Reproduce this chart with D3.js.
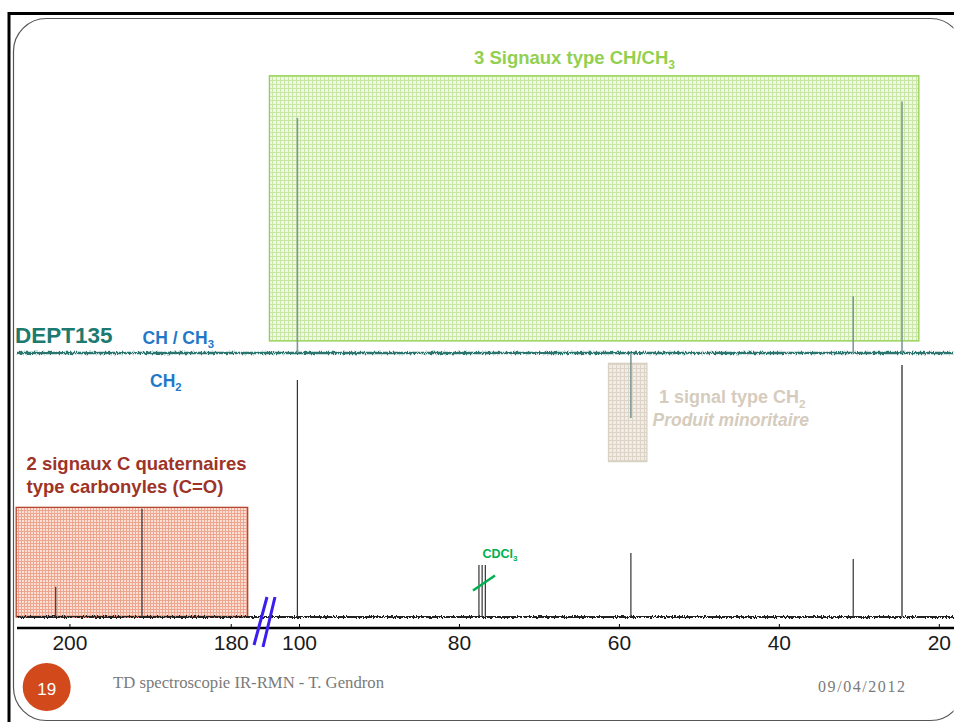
<!DOCTYPE html>
<html>
<head>
<meta charset="utf-8">
<script src="https://cdn.jsdelivr.net/npm/d3@7"></script>
<style>
  body { margin: 0; background: #fff; overflow: hidden; }
  svg { display: block; }
</style>
</head>
<body>
<div id="chart-area"></div>
<script>
// 13C spectrum (bottom): shift in ppm and relative height (tallest = 100)
var c13Shifts = [201.7, 191.0, 100.2, 77.5, 77.1, 76.7, 58.5, 30.7, 24.6];
var c13Heights = [12, 43, 94, 20.6, 20.6, 20.6, 25.4, 23, 100];

// DEPT135 (top): positive = CH / CH3, negative = CH2
var deptShifts = [100.2, 58.5, 30.7, 24.6];
var deptHeights = [93.3, -25.8, 22.5, 99.8];

// broken ppm axis
var leftDomain = [206.5, 176];
var rightDomain = [104.5, 18.1];
var leftTicks = [200, 180];
var rightTicks = [100, 80, 60, 40, 20];

// highlighted regions (ppm range, height range)
var greenPpm = [103.7, 22.5], greenInt = [4.8, 110];
var beigePpm = [61.3, 56.5], beigeInt = [-4.1, -43.1];
var redPpm = [206.6, 177.9], redInt = [0, 43.5];

var W = 954, H = 722;
var baseC13 = 617, baseDept = 353;

var svg = d3.select("#chart-area")
    .append("svg")
    .attr("width", W)
    .attr("height", H)
    .style("font-family", "Liberation Sans, Arial, sans-serif");

var xLeft = d3.scaleLinear().domain(leftDomain).range([17, 263]);
var xRight = d3.scaleLinear().domain(rightDomain).range([263, 954]);
var hScale = d3.scaleLinear().domain([0, 100]).range([0, 252]);

function xp(ppm) { return ppm > 140 ? xLeft(ppm) : xRight(ppm); }

// patterns + noise filter
var defs = svg.append("defs");
function grid(id, bg, line, size) {
    var p = defs.append("pattern").attr("id", id)
        .attr("patternUnits", "userSpaceOnUse")
        .attr("width", size).attr("height", size);
    p.append("rect").attr("width", size).attr("height", size).attr("fill", bg);
    p.append("rect").attr("width", size).attr("height", 1).attr("fill", line);
    p.append("rect").attr("width", 1).attr("height", size).attr("fill", line);
}
grid("gGreen", "#eef8e2", "#c8e7a4", 4);
grid("gRed", "#fbe0d6", "#eea58f", 3);
grid("gBeige", "#f1ede6", "#dcd4c6", 4);

var f = defs.append("filter").attr("id", "noise")
    .attr("filterUnits", "userSpaceOnUse")
    .attr("x", 0).attr("y", 0).attr("width", W).attr("height", H);
f.append("feTurbulence").attr("type", "fractalNoise")
    .attr("baseFrequency", "0.9 0.3").attr("numOctaves", 2).attr("seed", 4)
    .attr("result", "t");
f.append("feDisplacementMap").attr("in", "SourceGraphic").attr("in2", "t")
    .attr("scale", 4).attr("xChannelSelector", "R").attr("yChannelSelector", "G");

defs.append("clipPath").attr("id", "page")
    .append("rect").attr("x", 0).attr("y", 0).attr("width", W - 0.5).attr("height", H);

// frame
svg.append("line").attr("x1", 9).attr("x2", 9).attr("y1", 12).attr("y2", H)
    .attr("stroke", "#000").attr("stroke-width", 3);
svg.append("line").attr("x1", 8).attr("x2", W).attr("y1", 13.5).attr("y2", 13.5)
    .attr("stroke", "#000").attr("stroke-width", 3);
svg.append("rect").attr("x", 13.5).attr("y", 18.5).attr("width", 950).attr("height", 702)
    .attr("rx", 33).attr("fill", "none").attr("stroke", "#555").attr("stroke-width", 1.2)
    .attr("clip-path", "url(#page)");

// boxes
function box(ppm, ints, base, fill, stroke) {
    var x0 = xp(ppm[0]), x1 = xp(ppm[1]);
    var y0 = base - hScale(ints[0]), y1 = base - hScale(ints[1]);
    svg.append("rect")
        .attr("x", Math.min(x0, x1)).attr("y", Math.min(y0, y1))
        .attr("width", Math.abs(x1 - x0)).attr("height", Math.abs(y1 - y0))
        .attr("fill", fill).attr("stroke", stroke).attr("stroke-width", 1.3);
}
box(greenPpm, greenInt, baseDept, "url(#gGreen)", "#92d050");
box(beigePpm, beigeInt, baseDept, "url(#gBeige)", "#d9d1c2");
box(redPpm, redInt, baseC13, "url(#gRed)", "#b5452c");

// baselines
function baseline(base, color, w) {
    svg.append("line")
        .attr("x1", xLeft(leftDomain[0])).attr("x2", xRight(rightDomain[1]))
        .attr("y1", base).attr("y2", base)
        .attr("stroke", color).attr("stroke-width", w)
        .attr("filter", "url(#noise)");
}
baseline(baseDept, "#2a766e", 2.4);
baseline(baseC13, "#222", 1.8);

// peaks
svg.append("g").selectAll("line")
    .data(deptShifts)
    .enter().append("line")
    .attr("x1", d => xp(d)).attr("x2", d => xp(d))
    .attr("y1", baseDept)
    .attr("y2", (d, i) => baseDept - hScale(deptHeights[i]))
    .attr("stroke", "#7d9896").attr("stroke-width", 1.6);

svg.append("g").selectAll("line")
    .data(c13Shifts)
    .enter().append("line")
    .attr("x1", d => xp(d)).attr("x2", d => xp(d))
    .attr("y1", baseC13)
    .attr("y2", (d, i) => baseC13 - hScale(c13Heights[i]))
    .attr("stroke", (d, i) => c13Heights[i] > 99 ? "#777" : "#333")
    .attr("stroke-width", (d, i) => c13Heights[i] > 99 ? 2 : 1.2);

// axis
var axisY = 628;
svg.append("line").attr("x1", 17).attr("x2", W).attr("y1", axisY).attr("y2", axisY)
    .attr("stroke", "#000").attr("stroke-width", 2.5);
function drawAxis(scale, ticks) {
    var g = svg.append("g").attr("transform", "translate(0," + axisY + ")")
        .call(d3.axisBottom(scale).tickValues(ticks).tickSize(-4).tickSizeOuter(0).tickPadding(7));
    g.select(".domain").remove();
    g.selectAll("line").attr("stroke", "#000");
    g.selectAll("text").attr("font-size", 21).attr("fill", "#1a1a1a")
        .attr("font-family", "Liberation Sans, Arial, sans-serif");
}
drawAxis(xLeft, leftTicks);
drawAxis(xRight, rightTicks);

// axis break
[[254, 645, 267, 597], [263, 647, 275, 597]].forEach(function (b) {
    svg.append("line").attr("x1", b[0]).attr("y1", b[1]).attr("x2", b[2]).attr("y2", b[3])
        .attr("stroke", "#3b1df0").attr("stroke-width", 3);
});

// labels
function label(x, y, parts, size, color, extra) {
    var t = svg.append("text").attr("x", x).attr("y", y)
        .attr("font-size", size).attr("font-weight", "bold").attr("fill", color);
    if (extra) extra(t);
    parts.forEach(function (p) {
        if (p.sub) {
            t.append("tspan").attr("dy", size * 0.25).attr("font-size", size * 0.65).text(p.sub);
        } else {
            t.append("tspan").text(p.t);
        }
    });
    return t;
}
label(474, 64, [{ t: "3 Signaux type CH/CH" }, { sub: "3" }], 18.5, "#92d050");
label(15, 343, [{ t: "DEPT135" }], 22.5, "#1d7a70");
label(142.5, 344, [{ t: "CH / CH" }, { sub: "3" }], 17.5, "#1f78c8");
label(150, 387, [{ t: "CH" }, { sub: "2" }], 17.5, "#1f78c8");
label(659, 403, [{ t: "1 signal type CH" }, { sub: "2" }], 18, "#d5ccbd");
label(652.5, 426, [{ t: "Produit minoritaire" }], 17.5, "#d5ccbd",
    function (t) { t.attr("font-style", "italic"); });
label(26.5, 470, [{ t: "2 signaux C quaternaires" }], 18.5, "#9e3327");
label(26.5, 493, [{ t: "type carbonyles (C=O)" }], 18.5, "#9e3327");
label(482.5, 558, [{ t: "CDCl" }, { sub: "3" }], 12.5, "#00b050");
svg.append("line").attr("x1", 473).attr("y1", 590.5).attr("x2", 495).attr("y2", 575.5)
    .attr("stroke", "#00b050").attr("stroke-width", 2.5);

// footer
svg.append("circle").attr("cx", 46.7).attr("cy", 687).attr("r", 24).attr("fill", "#d24a1c");
svg.append("text").attr("x", 46.7).attr("y", 695).attr("text-anchor", "middle")
    .attr("font-size", 17).attr("fill", "#fff").text("19");
svg.append("text").attr("x", 113).attr("y", 687.5)
    .attr("font-family", "Liberation Serif, DejaVu Serif, serif")
    .attr("font-size", 16).attr("fill", "#7a7a7a")
    .attr("textLength", 271).attr("lengthAdjust", "spacingAndGlyphs")
    .text("TD spectroscopie IR-RMN - T. Gendron");
svg.append("text").attr("x", 818).attr("y", 691.5)
    .attr("font-family", "Liberation Serif, DejaVu Serif, serif")
    .attr("font-size", 16).attr("fill", "#7a7a7a")
    .attr("textLength", 87).attr("lengthAdjust", "spacing")
    .text("09/04/2012");
</script>
</body>
</html>
